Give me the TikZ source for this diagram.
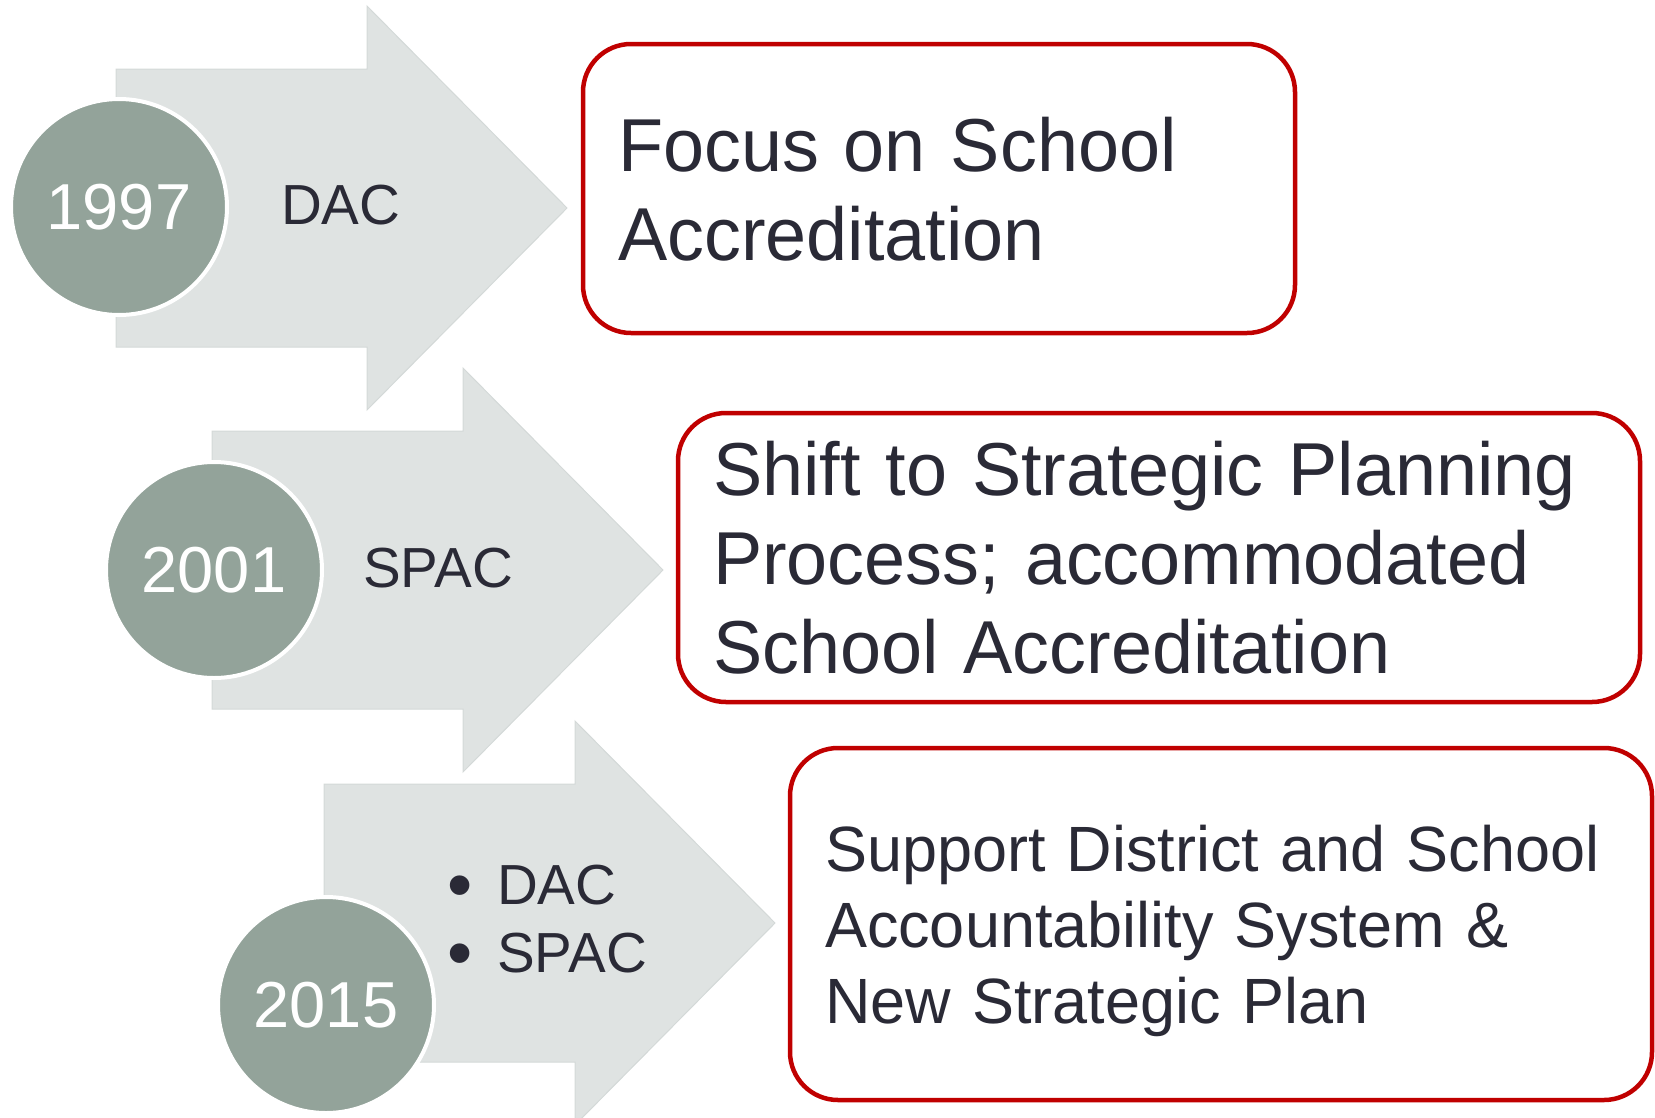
\documentclass[tikz,border=0pt]{standalone}
\usepackage{fontspec}
\setmainfont{Liberation Sans}
\newfontfamily\goalfont[FakeStretch=0.984]{Liberation Sans}
\definecolor{arrowgray}{RGB}{223,227,226}
\definecolor{arrowedge}{RGB}{212,217,216}
\definecolor{yeargreen}{RGB}{147,163,154}
\definecolor{boxred}{RGB}{192,0,0}
\definecolor{textdark}{RGB}{42,42,54}
\def\timearrow(#1,#2){\draw[fill=arrowgray, draw=arrowedge, line width=1pt] (#1,#2-139) -- ++(251,0) -- ++(0,-63) -- (#1+451,#2) -- (#1+251,#2+202) -- ++(0,-63) -- (#1,#2+139) -- cycle;}
\def\listdot{\makebox[50pt][l]{\raisebox{-5pt}{\fontsize{72}{68}\selectfont •}}}
\tikzset{
	yearcircle/.style={circle, fill=yeargreen, draw=white, line width=4pt, minimum size=216pt, inner sep=0pt, text=white, font=\fontsize{65}{78}\selectfont},
	tagtext/.style={text=textdark, font=\fontsize{56.5}{68}\selectfont, anchor=west, inner sep=0pt},
	goalbox/.style={draw=boxred, line width=4.5pt, rounded corners=48pt, fill=white, text=textdark, align=left, inner xsep=35pt, inner ysep=0pt, font=\goalfont\fontsize{75}{89}\selectfont}
}

\begin{document}
\begin{tikzpicture}[x=1pt, y=-1pt]
			%%%%% START %%%%%
			\useasboundingbox (0,0) rectangle (1655,1117);
			
			\timearrow(116,208)
			\timearrow(212,570)
			\timearrow(324,923)
			
			\node[yearcircle] (y1997) at (119,207) {1997};
			\node[yearcircle] (y2001) at (214,570) {2001};
			\node[yearcircle] (y2015) at (326,1005) {2015};
			
			\node[tagtext] (dac) at (281,205) {DAC};
			\node[tagtext] (spac) at (363,568) {SPAC};
			\node[tagtext, align=left] (both) at (447,921) {\listdot DAC\\\listdot SPAC};
			
			\node[goalbox, text width=642pt, text depth=89pt, minimum height=289pt] (focus) at (939,188.5) {Focus on School\\Accreditation};
			\node[goalbox, text width=892pt, text depth=178pt, minimum height=289pt] (shift) at (1159,557.5) {Shift to Strategic Planning\\Process; accommodated\\School Accreditation};
			\node[goalbox, text width=792pt, text depth=152pt, minimum height=352pt, font=\goalfont\fontsize{64}{76}\selectfont] (support) at (1221,924) {Support District and School\\Accountability System \&\\New Strategic Plan};
			
			%%%%% END %%%%%
\end{tikzpicture}
\end{document}
